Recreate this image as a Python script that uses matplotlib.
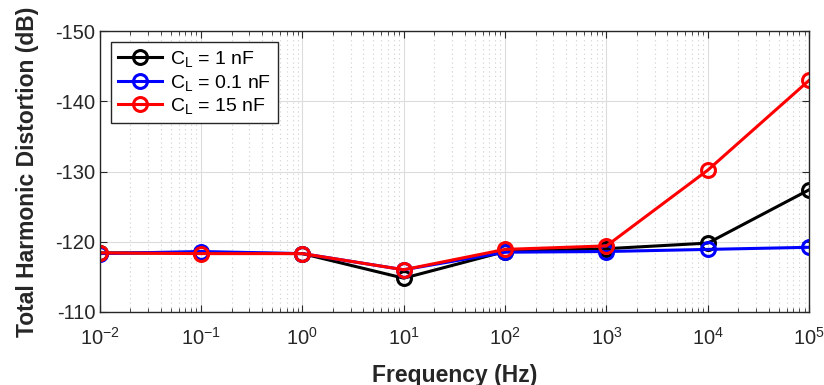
import numpy as np
import matplotlib.pyplot as plt
from matplotlib.ticker import LogLocator, NullFormatter

plt.rcParams['font.family'] = ['Liberation Sans', 'DejaVu Sans']
plt.rcParams['axes.unicode_minus'] = False
plt.rcParams['mathtext.fontset'] = 'custom'
plt.rcParams['mathtext.rm'] = 'Liberation Sans'
plt.rcParams['mathtext.it'] = 'Liberation Sans:italic'
plt.rcParams['mathtext.bf'] = 'Liberation Sans:bold'

# datos
freq = [1e-2, 1e-1, 1e0, 1e1, 1e2, 1e3, 1e4, 1e5]
thd_1nF = [-118.4, -118.4, -118.3, -114.8, -118.6, -119.0, -119.8, -127.4]
thd_01nF = [-118.3, -118.6, -118.3, -116.0, -118.5, -118.6, -118.9, -119.2]
thd_15nF = [-118.4, -118.3, -118.3, -116.0, -118.9, -119.4, -130.2, -143.0]
etiquetas = ['C$_\\mathregular{L}$ = 1 nF', 'C$_\\mathregular{L}$ = 0.1 nF', 'C$_\\mathregular{L}$ = 15 nF']

fig, ax = plt.subplots(figsize=(8.24, 3.85), dpi=100)
fig.subplots_adjust(left=0.121, right=0.982, top=0.919, bottom=0.19)

estilo = dict(linewidth=2.2, marker='o', markersize=10, markerfacecolor='none', markeredgewidth=2.2)
ax.plot(freq, thd_1nF, color='black', label=etiquetas[0], **estilo)
ax.plot(freq, thd_01nF, color='blue', label=etiquetas[1], **estilo)
ax.plot(freq, thd_15nF, color='red', label=etiquetas[2], **estilo)

ax.set_xscale('log')
ax.set_xlim(1e-2, 1e5)
ax.set_ylim(-110, -150)
ax.set_yticks([-150, -140, -130, -120, -110])
ax.xaxis.set_major_locator(LogLocator(base=10, numticks=20))
ax.xaxis.set_minor_locator(LogLocator(base=10, subs=np.arange(2, 10), numticks=100))
ax.xaxis.set_minor_formatter(NullFormatter())

ax.grid(which='major', color='#dcdcdc', linewidth=0.8)
ax.grid(which='minor', axis='x', color='#cfcfcf', linestyle=(0, (1, 3)), linewidth=0.8)
ax.set_axisbelow(True)

ax.tick_params(which='both', direction='in', top=True, right=True, labelsize=14.5, colors='#262626')
ax.tick_params(which='major', length=5)
ax.tick_params(which='minor', length=3)
ax.tick_params(axis='x', which='major', pad=11)
ax.tick_params(axis='y', which='major', pad=3)
for s in ax.spines.values():
    s.set_color('#262626')
    s.set_linewidth(1)

ax.set_xlabel('Frequency (Hz)', fontsize=16.5, fontweight='bold', color='#262626', labelpad=11)
ax.set_ylabel('Total Harmonic Distortion (dB)', fontsize=16.5, fontweight='bold', color='#262626', labelpad=12)

leg = ax.legend(loc='upper left', fontsize=14, frameon=True, fancybox=False,
                edgecolor='#262626', handlelength=2.3, borderpad=0.35, labelspacing=0.18,
                handletextpad=0.4, bbox_to_anchor=(0.002, 0.995))
leg.get_frame().set_linewidth(1)
leg.get_frame().set_alpha(1)

fig.savefig('out.png', dpi=100)
